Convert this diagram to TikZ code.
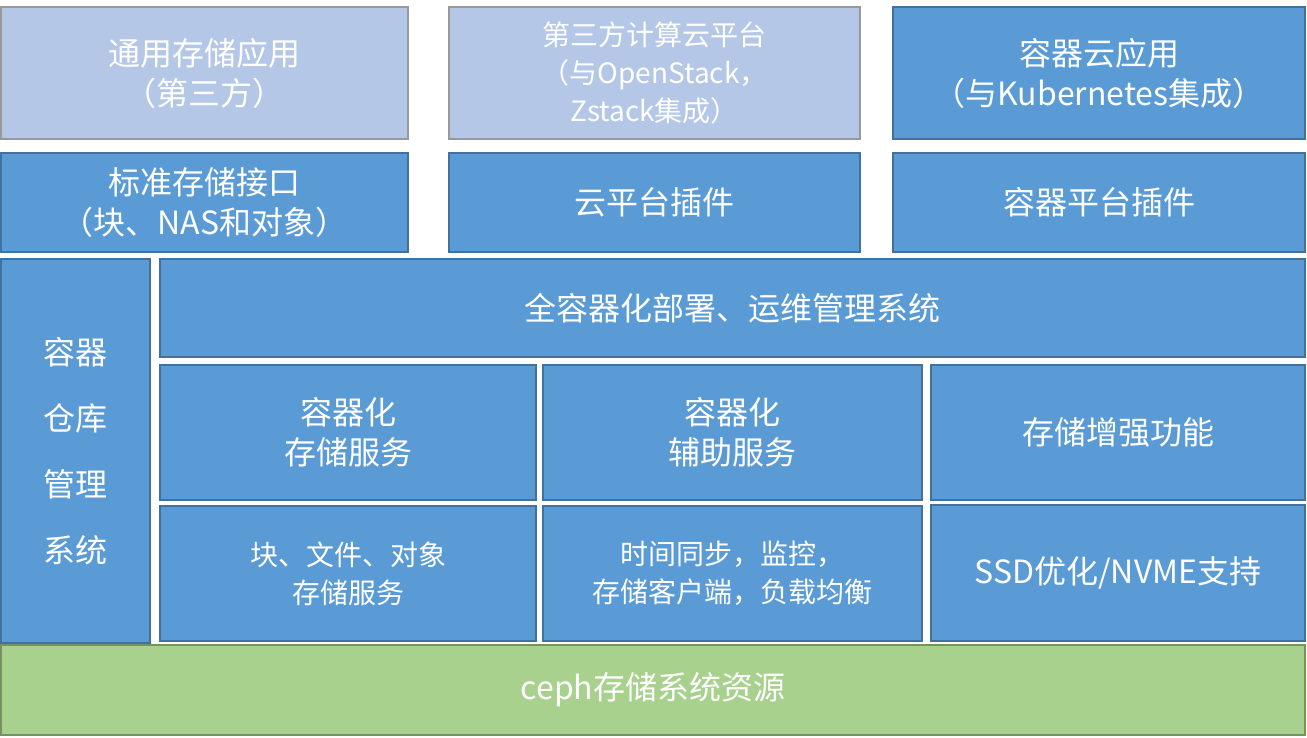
\documentclass[tikz,border=0pt]{standalone}
\usepackage{fontspec}
\setmainfont{Noto Sans CJK SC}
\definecolor{bl}{HTML}{5B9BD5}
\definecolor{lb}{HTML}{B4C7E7}
\definecolor{gr}{HTML}{A9D18E}
\definecolor{bd}{HTML}{41719C}
\tikzset{
 bx/.style={draw=bd,line width=1.5pt,fill=bl,text=white,align=center,inner sep=0pt,font=\fontsize{32}{40}\selectfont},
 sm/.style={font=\fontsize{28}{38}\selectfont},
 lt/.style={fill=lb,draw=gray!80}
}
\newcommand{\bxat}[6]{\path[#6] (#1,#2) rectangle (#3,#4) node[midway] {};}
\begin{document}
\begin{tikzpicture}[x=1pt,y=-1pt]
\useasboundingbox (0,0) rectangle (1307,737);
\draw[bx,lt] (1,7) rectangle (408,139) node[midway,text=white] (a1) {通用存储应用\\（第三方）};
\draw[bx,lt] (449,7) rectangle (860,139) node[midway,sm,text=white] (a2) {第三方计算云平台\\（与OpenStack，\\Zstack集成）};
\draw[bx] (893,7) rectangle (1305,139) node[midway] (a3) {容器云应用\\（与Kubernetes集成）};
\draw[bx] (1,153) rectangle (408,252) node[midway] (b1) {标准存储接口\\（块、NAS和对象）};
\draw[bx] (449,153) rectangle (860,252) node[midway] (b2) {云平台插件};
\draw[bx] (893,153) rectangle (1305,252) node[midway] (b3) {容器平台插件};
\draw[bx] (1,259) rectangle (150,643) node[midway,font=\fontsize{32}{66}\selectfont] (l) {容器\\仓库\\管理\\系统};
\draw[bx] (160,259) rectangle (1305,357) node[midway] (m) {全容器化部署、运维管理系统};
\draw[bx] (160,365) rectangle (536,500) node[midway] (c1) {容器化\\存储服务};
\draw[bx] (543,365) rectangle (922,500) node[midway] (c2) {容器化\\辅助服务};
\draw[bx] (931,365) rectangle (1305,500) node[midway] (c3) {存储增强功能};
\draw[bx] (160,506) rectangle (536,641) node[midway,sm] (d1) {块、文件、对象\\存储服务};
\draw[bx] (543,506) rectangle (922,641) node[midway,sm] (d2) {时间同步，监控，\\存储客户端，负载均衡};
\draw[bx] (931,505) rectangle (1305,641) node[midway] (d3) {SSD优化/NVME支持};
\draw[bx,fill=gr,draw=gr!70!black] (1,645) rectangle (1305,735) node[midway] (g) {ceph存储系统资源};
\end{tikzpicture}
\end{document}
